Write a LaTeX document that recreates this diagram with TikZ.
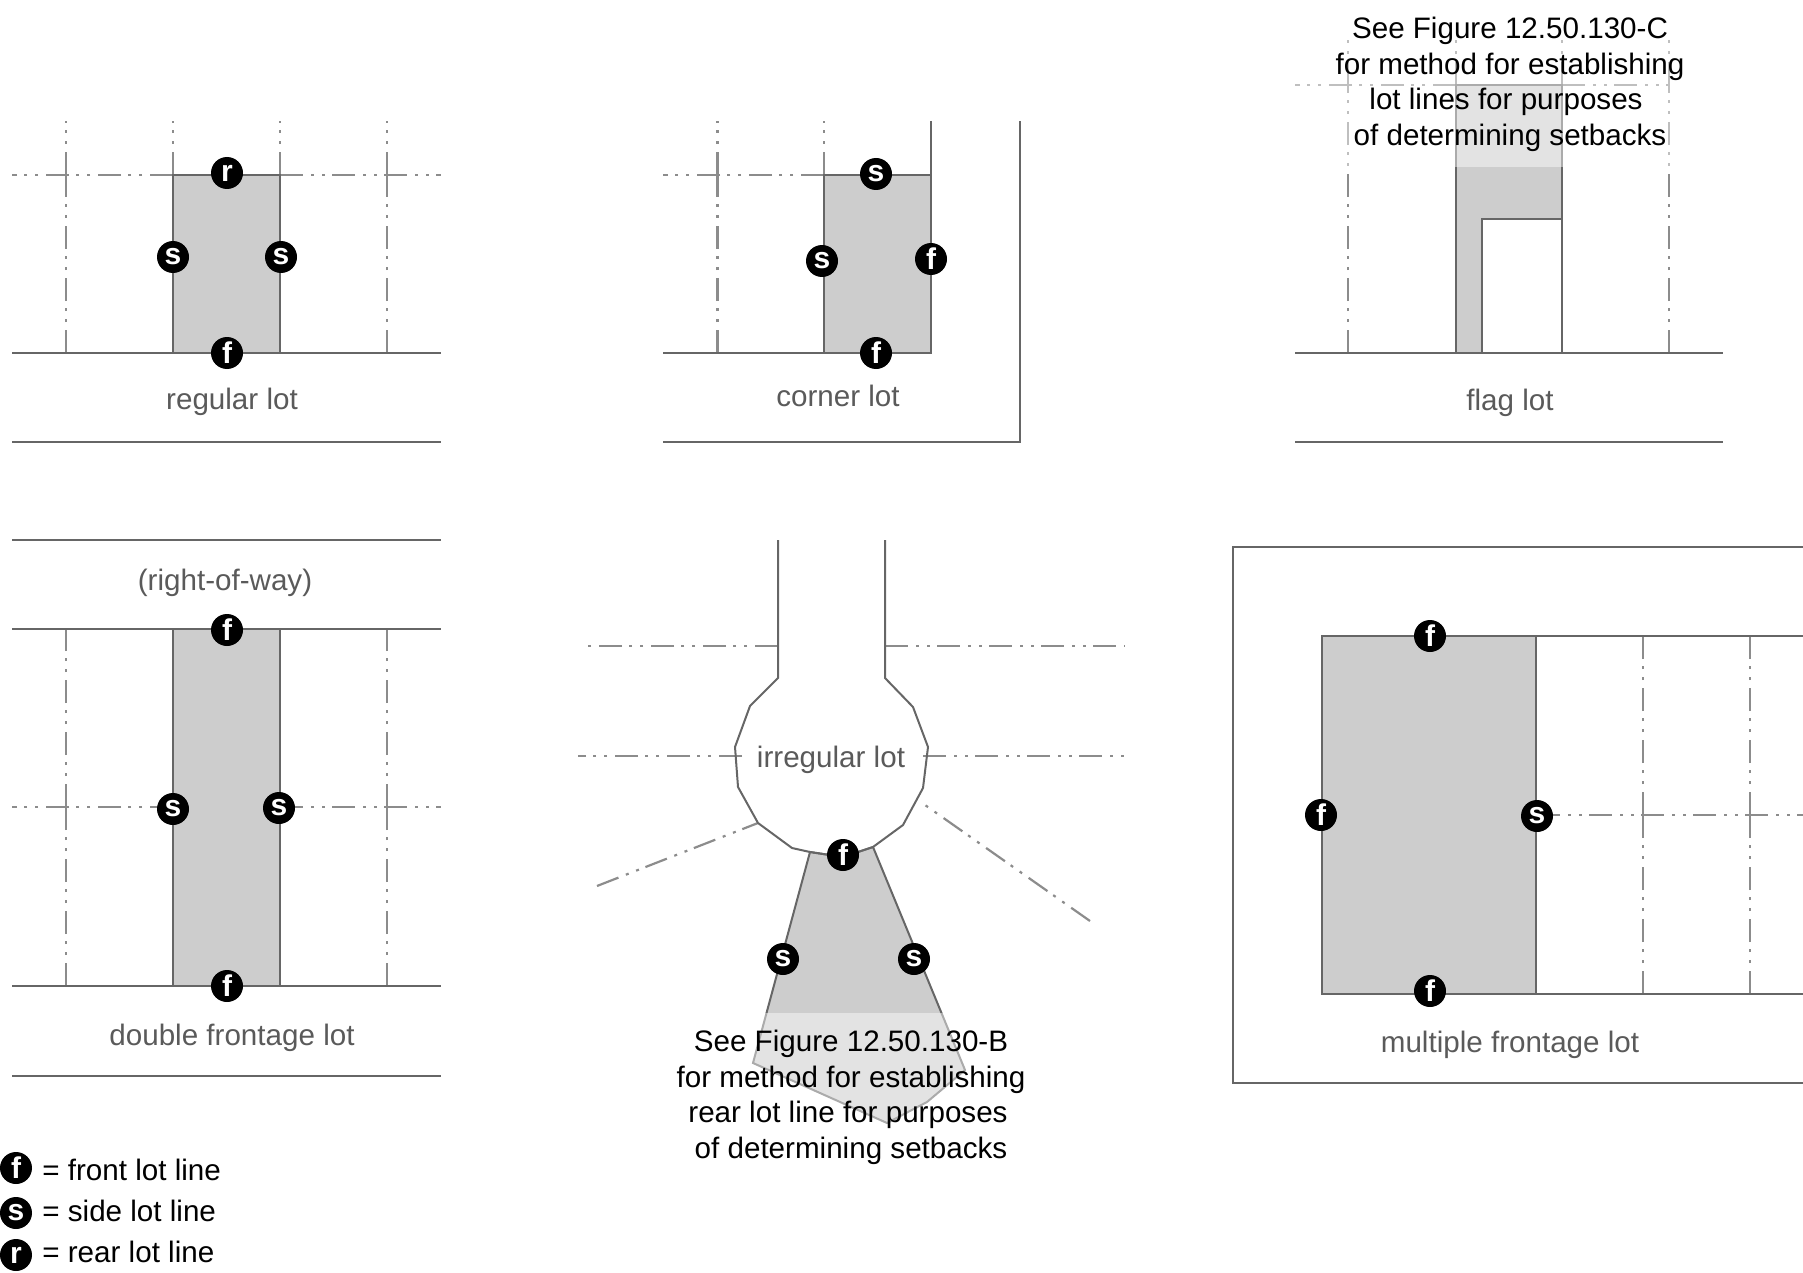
\documentclass[tikz,border=0pt]{standalone}
\usepackage{fontspec}
\setmainfont{Liberation Sans}
\definecolor{lotfill}{HTML}{CDCDCD}
\definecolor{lotline}{HTML}{666666}
\definecolor{dashline}{HTML}{8C8C8C}
\definecolor{caption}{HTML}{5A5A5A}
\tikzset{
  lotline/.style={draw=lotline,line width=1pt},
  lotshape/.style={fill=lotfill,draw=lotline,line width=1pt},
  lotdash/.style={draw=dashline,line width=1.1pt,dash pattern=on 11.5pt off 4pt on 1.5pt off 4pt on 1.5pt off 3.5pt},
  lotmark/.style={circle,fill=black,text=white,inner sep=0pt,minimum size=16pt,yshift=-0.5pt,font=\fontsize{15}{15}\selectfont\bfseries},
  lotcaption/.style={text=caption,inner sep=0pt,font=\fontsize{14.8}{17}\selectfont},
  seenote/.style={text=black,inner sep=0pt,align=center,font=\fontsize{14.8}{17.75}\selectfont},
  legendtext/.style={text=black,inner sep=0pt,anchor=west,font=\fontsize{14.8}{17}\selectfont},
  fadebox/.style={fill=white,fill opacity=.45,draw=none}
}
\begin{document}
\begin{tikzpicture}[x=0.5pt,y=-0.5pt]
\useasboundingbox (0,0) rectangle (1803,1273);
% regular lot
\draw[lotdash] (66,353) -- (66,175);
\draw[lotdash] (66,175) -- (66,121);
\draw[lotdash] (387,353) -- (387,175);
\draw[lotdash] (387,175) -- (387,121);
\draw[lotdash] (173,175) -- (173,121);
\draw[lotdash] (280,175) -- (280,121);
\draw[lotdash] (173,175) -- (12,175);
\draw[lotdash] (280,175) -- (441,175);
\draw[lotshape] (173,175) rectangle (280,353);
\draw[lotline] (12,353) -- (441,353);
\draw[lotline] (12,442) -- (441,442);
\node[lotmark] (ar) at (227,172) {r};
\node[lotmark] (as1) at (173,256) {s};
\node[lotmark] (as2) at (281,256) {s};
\node[lotmark] (af) at (227,352) {f};
\node[lotcaption] (acap) at (232,402) {regular lot};
% corner lot
\draw[lotdash] (717.5,353) -- (717.5,175);
\draw[lotdash] (717.5,175) -- (717.5,121);
\draw[lotdash] (824,175) -- (824,121);
\draw[lotdash] (824,175) -- (663,175);
\draw[lotshape] (824,175) rectangle (931,353);
\draw[lotline] (931,121) -- (931,353);
\draw[lotline] (663,353) -- (931,353);
\draw[lotline] (663,442) -- (1020,442) -- (1020,121);
\node[lotmark] (bs1) at (876,173) {s};
\node[lotmark] (bs2) at (822,260) {s};
\node[lotmark] (bf1) at (931,258) {f};
\node[lotmark] (bf2) at (876,352) {f};
\node[lotcaption] (bcap) at (838,396) {corner lot};
% flag lot
\draw[lotdash] (1348,353) -- (1348,85);
\draw[lotdash] (1348,85) -- (1348,40);
\draw[lotdash] (1669,353) -- (1669,85);
\draw[lotdash] (1669,85) -- (1669,40);
\draw[lotdash] (1456,85) -- (1456,40);
\draw[lotdash] (1562,85) -- (1562,40);
\draw[lotdash] (1456,85) -- (1295,85);
\draw[lotdash] (1562,85) -- (1670,85);
\draw[lotshape] (1456,353) -- (1456,85) -- (1562,85) -- (1562,219) -- (1482,219) -- (1482,353) -- cycle;
\draw[lotline] (1562,219) -- (1562,353);
\draw[lotline] (1295,353) -- (1723,353);
\draw[lotline] (1295,442) -- (1723,442);
\fill[fadebox] (1290,0) rectangle (1730,167);
\node[seenote] (cnote) at (1510,84.5) {See Figure 12.50.130-C\\for method for establishing\\lot lines for purposes\hspace*{4pt}\null\\of determining setbacks};
\node[lotcaption] (ccap) at (1510,403) {flag lot};
% double frontage lot
\draw[lotdash] (66,986) -- (66,807);
\draw[lotdash] (66,807) -- (66,629);
\draw[lotdash] (387,986) -- (387,807);
\draw[lotdash] (387,807) -- (387,629);
\draw[lotdash] (173,807) -- (12,807);
\draw[lotdash] (280,807) -- (441,807);
\draw[lotshape] (173,629) rectangle (280,986);
\draw[lotline] (12,540) -- (441,540);
\draw[lotline] (12,629) -- (441,629);
\draw[lotline] (12,986) -- (441,986);
\draw[lotline] (12,1076) -- (441,1076);
\node[lotmark] (df1) at (227,629) {f};
\node[lotmark] (ds1) at (173,808) {s};
\node[lotmark] (ds2) at (279,807) {s};
\node[lotmark] (df2) at (227,985) {f};
\node[lotcaption] (dway) at (225,583) {(right-of-way)};
\node[lotcaption] (dcap) at (232,1038) {double frontage lot};
% irregular lot
\draw[lotdash] (778,646) -- (587,646);
\draw[lotdash] (885,646) -- (1125,646);
\draw[lotdash] (742,756) -- (578,756);
\draw[lotdash] (923,756) -- (1124,756);
\draw[lotdash] (597,886) -- (758,823);
\draw[lotdash] (1090,921) -- (925,805);
\draw[lotshape] (810,852) -- (753,1063) -- (887,1123) -- (927,1102) -- (965,1070) -- (873,847) -- (843,857) -- cycle;
\draw[lotline] (778,540) -- (778,678) -- (750,706) -- (735,747) -- (738,787) -- (758,823) -- (792,848) -- (810,852) -- (843,857) -- (873,847) -- (903,825) -- (923,788) -- (928,747) -- (913,707) -- (885,678) -- (885,540);
\fill[fadebox] (735,1013) rectangle (985,1135);
\node[lotmark] (ef) at (843,854) {f};
\node[lotmark] (es1) at (783,958) {s};
\node[lotmark] (es2) at (914,958) {s};
\node[lotcaption] (ecap) at (831,760) {irregular lot};
\node[seenote] (enote) at (851,1097.5) {See Figure 12.50.130-B\\for method for establishing\\rear lot line for purposes\hspace*{3pt}\null\\of determining setbacks};
% multiple frontage lot
\draw[lotdash] (1643,994) -- (1643,815);
\draw[lotdash] (1643,815) -- (1643,636);
\draw[lotdash] (1750,994) -- (1750,815);
\draw[lotdash] (1750,815) -- (1750,636);
\draw[lotdash] (1537,815) -- (1803,815);
\draw[lotshape] (1322,636) rectangle (1536,994);
\draw[lotline] (1536,636) -- (1803,636);
\draw[lotline] (1536,994) -- (1803,994);
\draw[lotline] (1803,547) -- (1233,547) -- (1233,1083) -- (1803,1083);
\node[lotmark] (ff1) at (1430,635) {f};
\node[lotmark] (ff2) at (1321,814) {f};
\node[lotmark] (fs) at (1537,815) {s};
\node[lotmark] (ff3) at (1430,990) {f};
\node[lotcaption] (fcap) at (1510,1045) {multiple frontage lot};
% legend
\node[lotmark] (lf) at (16,1167) {f};
\node[lotmark] (ls) at (16,1212) {s};
\node[lotmark] (lr) at (16,1254) {r};
\node[legendtext] (lft) at (42,1170) {= front lot line};
\node[legendtext] (lst) at (42,1211) {= side lot line};
\node[legendtext] (lrt) at (42,1252) {= rear lot line};
\end{tikzpicture}
\end{document}
